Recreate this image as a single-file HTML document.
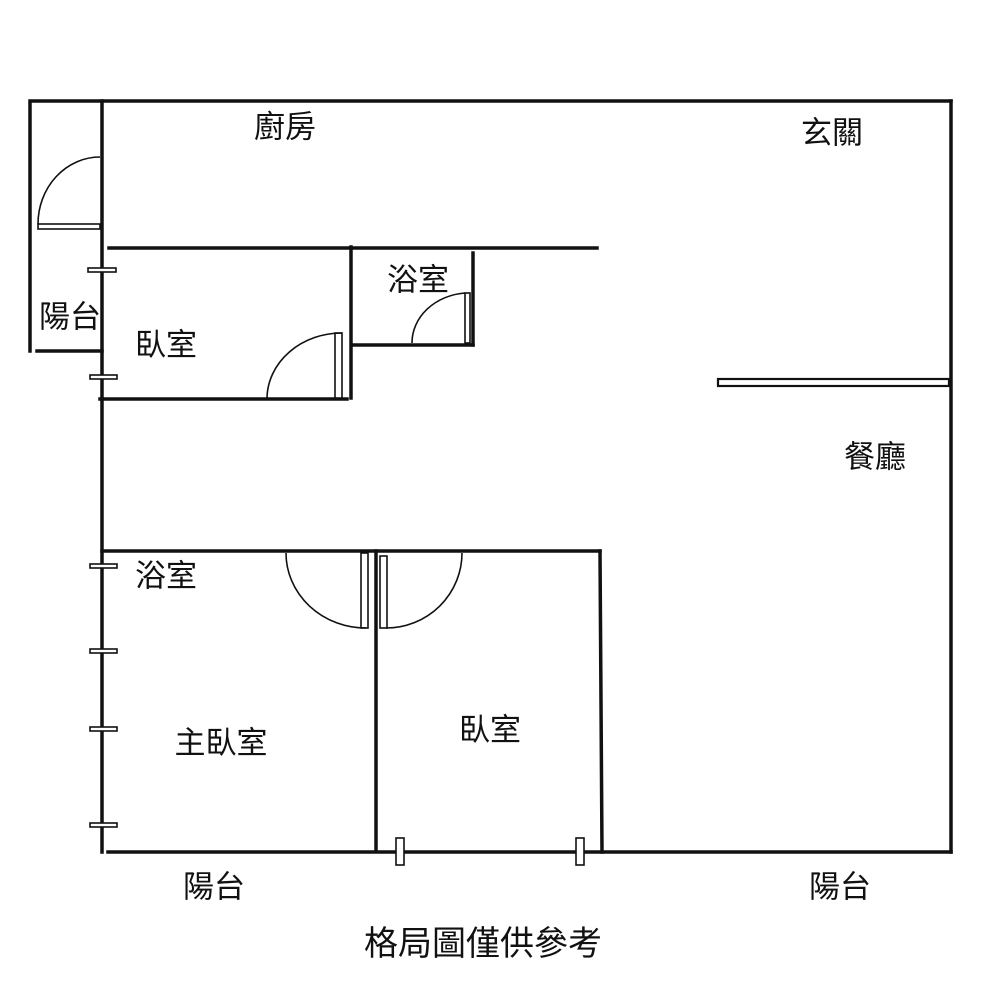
<!DOCTYPE html>
<html><head><meta charset="utf-8"><style>
html,body{margin:0;padding:0;background:#fff;width:1000px;height:1000px;overflow:hidden}
svg text{font-family:"Liberation Sans","Noto Sans CJK TC",sans-serif;fill:#111;text-anchor:middle;dominant-baseline:central}
</style></head><body>
<svg width="1000" height="1000" viewBox="0 0 1000 1000" xmlns="http://www.w3.org/2000/svg">
<g stroke="#111" stroke-width="3.5" fill="none" stroke-linecap="square">
<line x1="30" y1="101" x2="951" y2="101"/>
<line x1="951" y1="101" x2="951" y2="852"/>
<line x1="108" y1="852" x2="951" y2="852"/>
<line x1="102" y1="101" x2="102" y2="852"/>
<line x1="30" y1="104" x2="30" y2="351"/>
<line x1="37" y1="351" x2="102" y2="351"/>
<line x1="109" y1="248" x2="597" y2="248"/>
<line x1="351" y1="247" x2="351" y2="398"/>
<line x1="100" y1="399" x2="347" y2="399"/>
<line x1="353" y1="345" x2="473" y2="345"/>
<line x1="473" y1="253" x2="473" y2="345"/>
<line x1="102" y1="551" x2="600" y2="551"/>
<line x1="600" y1="551" x2="602" y2="852"/>
<line x1="376" y1="551" x2="376" y2="850"/>
</g>
<g stroke="#111" stroke-width="1.6" fill="#fff">
<rect x="38" y="224" width="62" height="5"/>
<path d="M38,224 A62,67 0 0 1 100,157" fill="none"/>
<rect x="335" y="333" width="7" height="65"/>
<path d="M267,398 A75,66 0 0 1 342,333" fill="none"/>
<rect x="465" y="293" width="5" height="50"/>
<path d="M412,343 A58,50 0 0 1 465,293" fill="none"/>
<rect x="361" y="553" width="7" height="75"/>
<path d="M286,553 A80,75 0 0 0 366,628" fill="none"/>
<rect x="380" y="556" width="7" height="72"/>
<path d="M462,553 A76,75 0 0 1 386,628" fill="none"/>
<rect x="718" y="379" width="231" height="7" stroke-width="2.2"/>
<rect x="88" y="268" width="28" height="4"/>
<rect x="90" y="375" width="27" height="4"/>
<rect x="90" y="564" width="27" height="4"/>
<rect x="90" y="649" width="27" height="4"/>
<rect x="90" y="727" width="27" height="4"/>
<rect x="90" y="823" width="27" height="4"/>
<rect x="396" y="838" width="8" height="27"/>
<rect x="576" y="838" width="8" height="27"/>
</g>
<g font-size="31">
<text x="285" y="127">廚房</text>
<text x="832" y="133">玄關</text>
<text x="418" y="280">浴室</text>
<text x="70" y="317">陽台</text>
<text x="166" y="345">臥室</text>
<text x="875" y="457">餐廳</text>
<text x="166" y="576">浴室</text>
<text x="221" y="743">主臥室</text>
<text x="490" y="730">臥室</text>
<text x="214" y="887">陽台</text>
<text x="840" y="887">陽台</text>
<text x="483" y="944" font-size="34">格局圖僅供參考</text>
</g>
</svg>
</body></html>
